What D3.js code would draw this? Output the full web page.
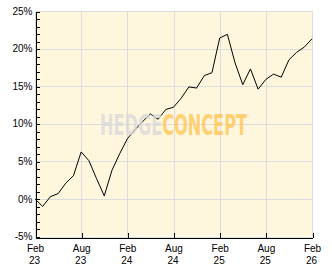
<!DOCTYPE html>
<html>
<head>
<meta charset="utf-8">
<script src="https://cdn.jsdelivr.net/npm/d3@7"></script>
<style>
  body { margin: 0; background: #fff; }
  svg text { font-family: "Liberation Sans", "DejaVu Sans", sans-serif; font-size: 10px; fill: #000; }
</style>
</head>
<body>
<div id="chart"></div>
<script>
// monthly performance in %, Feb 23 .. Feb 26
const months = d3.range(0, 37); // month index from Feb 2023
const perf = [0, -1.0, 0.3, 0.7, 2.1, 3.1, 6.25, 5.1, 2.7, 0.4, 3.8, 6.0,
  8.0, 9.2, 10.3, 11.3, 10.6, 11.9, 12.2, 13.4, 14.9, 14.75, 16.4, 16.8,
  21.4, 21.9, 18.1, 15.2, 17.3, 14.6, 15.9, 16.6, 16.2, 18.5, 19.5, 20.2, 21.3];
const xTickMonths = [0, 6, 12, 18, 24, 30, 36];
const xTickNames = ["Feb", "Aug", "Feb", "Aug", "Feb", "Aug", "Feb"];
const xTickYears = ["23", "23", "24", "24", "25", "25", "26"];
const yMajor = [-5, 0, 5, 10, 15, 20, 25];

const width = 332, height = 269;
const margin = {top: 11, right: 20, bottom: 33, left: 35};

let svg = d3.select("#chart").append("svg")
  .attr("width", width).attr("height", height);

let x = d3.scaleLinear().domain([0, 36]).range([margin.left, width - margin.right]);
let y = d3.scaleLinear().domain([-5, 25]).range([height - margin.bottom + 0.5, margin.top]);

// background
svg.append("rect")
  .attr("x", x(0)).attr("y", y(25))
  .attr("width", x(36) - x(0)).attr("height", y(-5) - y(25))
  .attr("fill", "#fff6de");

// grid
let grid = svg.append("g").attr("stroke", "#dcdcdc").attr("shape-rendering", "crispEdges");
grid.selectAll("line.h").data(yMajor).enter().append("line")
  .attr("x1", x(0)).attr("x2", x(36))
  .attr("y1", d => Math.round(y(d)) + 0.5).attr("y2", d => Math.round(y(d)) + 0.5);
grid.selectAll("line.v").data(xTickMonths).enter().append("line")
  .attr("y1", y(25)).attr("y2", y(-5))
  .attr("x1", d => Math.round(x(d)) + 0.5).attr("x2", d => Math.round(x(d)) + 0.5);

// line
let line = d3.line().x((d, i) => x(months[i])).y(d => y(d));
svg.append("path")
  .datum(perf)
  .attr("d", line)
  .attr("fill", "none")
  .attr("stroke", "#000")
  .attr("stroke-width", 1);

// watermark, one text so the two words read as a single logo
let wm = svg.append("text")
  .attr("x", 100).attr("y", 135)
  .attr("textLength", 147).attr("lengthAdjust", "spacingAndGlyphs")
  .style("font-family", "'DejaVu Sans Condensed', 'DejaVu Sans', sans-serif")
  .style("font-weight", "bold")
  .style("font-size", "28px");
wm.append("tspan")
  .style("fill", "#d9d9d9").style("fill-opacity", 0.8)
  .text("HEDGE");
wm.append("tspan")
  .style("fill", "#ffc95e").style("fill-opacity", 0.85)
  .text("CONCEPT");

// y axis
let yAxis = d3.axisLeft(y)
  .tickValues(d3.range(-5, 26, 1))
  .tickSize(-4).tickSizeOuter(0).tickPadding(3)
  .tickFormat(d => d % 5 === 0 ? d + "%" : "");
let gy = svg.append("g")
  .attr("transform", `translate(${x(0) + 0.5},0)`)
  .attr("shape-rendering", "crispEdges")
  .call(yAxis);
gy.attr("font-size", null).attr("font-family", null);
gy.select(".domain").attr("stroke", "#000");
gy.selectAll(".tick line").attr("stroke", "#000").attr("transform", "translate(0,0.5)");

// x axis
let xAxis = d3.axisBottom(x)
  .tickValues(xTickMonths)
  .tickSize(-5).tickSizeOuter(0)
  .tickFormat("");
let gx = svg.append("g")
  .attr("transform", `translate(0,${Math.round(y(-5)) + 0.5})`)
  .attr("shape-rendering", "crispEdges")
  .call(xAxis);
gx.select(".domain").attr("stroke", "#000");
gx.selectAll(".tick line").attr("stroke", "#000").attr("transform", "translate(0.5,0)");

let xl = svg.append("g").selectAll("text.xl").data(xTickMonths).enter();
xl.append("text")
  .attr("x", d => x(d) + 0.5).attr("y", 252)
  .attr("text-anchor", "middle")
  .text((d, i) => xTickNames[i]);
xl.append("text")
  .attr("x", d => x(d) - 0.5).attr("y", 264)
  .attr("text-anchor", "middle")
  .text((d, i) => xTickYears[i]);
</script>
</body>
</html>
